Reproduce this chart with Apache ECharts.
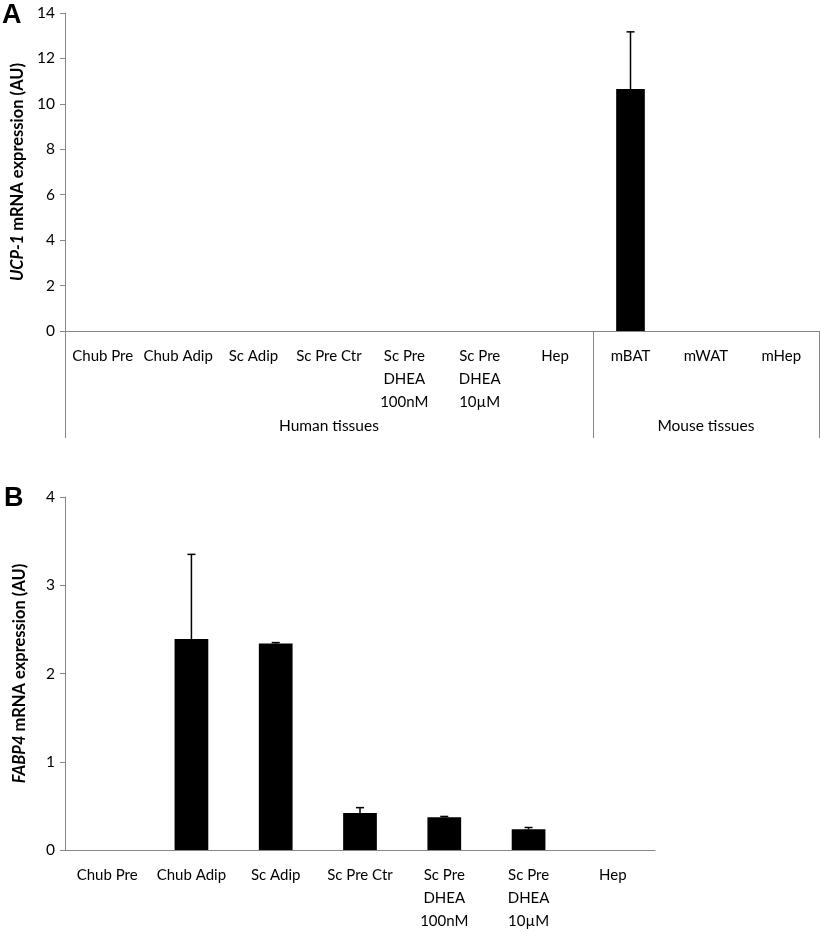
<!DOCTYPE html>
<html>
<head>
<meta charset="utf-8">
<script src="https://cdn.jsdelivr.net/npm/echarts@6/dist/echarts.min.js"></script>
<style>html,body{margin:0;padding:0;background:#fff}#main{width:820px;height:933px}</style>
</head>
<body>
<div id="main"></div>
<script>
// panel A: UCP-1
var ucpCategories = ['Chub Pre', 'Chub Adip', 'Sc Adip', 'Sc Pre Ctr', 'Sc Pre\nDHEA\n100nM', 'Sc Pre\nDHEA\n10µM', 'Hep', 'mBAT', 'mWAT', 'mHep'];
var ucpValues = [0, 0, 0, 0, 0, 0, 0, 10.65, 0, 0];
var ucpErrors = [0, 0, 0, 0, 0, 0, 0, 2.52, 0, 0];
var ucpGroups = ['Human tissues', 'Mouse tissues'];
var ucpGroupSizes = [7, 3];
var ucpTicks = [0, 2, 4, 6, 8, 10, 12, 14];

// panel B: FABP4
var fabpCategories = ['Chub Pre', 'Chub Adip', 'Sc Adip', 'Sc Pre Ctr', 'Sc Pre\nDHEA\n100nM', 'Sc Pre\nDHEA\n10µM', 'Hep'];
var fabpValues = [0, 2.39, 2.34, 0.42, 0.37, 0.235, 0];
var fabpErrors = [0, 0.96, 0.01, 0.06, 0.01, 0.02, 0];
var fabpTicks = [0, 1, 2, 3, 4];

var font = 'Lato';
var axisGrey = '#868686';

// group boundaries and centres for the second level of the A axis
var bounds = [0], centres = [];
ucpGroupSizes.forEach(function (n) {
    var start = bounds[bounds.length - 1];
    centres.push(start + n / 2);
    bounds.push(start + n);
});

function errorBars(values, errors, idx) {
    return {
        type: 'custom',
        xAxisIndex: idx === 0 ? 0 : 2,
        yAxisIndex: idx,
        z: 5,
        data: values.map(function (v, i) { return [i, v, v + errors[i], errors[i]]; }),
        renderItem: function (params, api) {
            if (!(api.value(3) > 0)) return;
            var lo = api.coord([api.value(0), api.value(1)]);
            var hi = api.coord([api.value(0), api.value(2)]);
            var st = { stroke: '#000', lineWidth: 1.5 };
            return {
                type: 'group',
                children: [
                    { type: 'line', shape: { x1: lo[0], y1: lo[1], x2: hi[0], y2: hi[1] }, style: st },
                    { type: 'line', shape: { x1: hi[0] - 4, y1: hi[1], x2: hi[0] + 4, y2: hi[1] }, style: st }
                ]
            };
        }
    };
}

function yAxisOf(grid, ticks, nameItalic) {
    return {
        type: 'value',
        gridIndex: grid,
        min: ticks[0],
        max: ticks[ticks.length - 1],
        interval: ticks[1] - ticks[0],
        axisLine: { show: true, lineStyle: { color: axisGrey, width: 1 } },
        axisTick: { show: true, length: 5, lineStyle: { color: axisGrey } },
        splitLine: { show: false },
        axisLabel: { color: '#000', fontSize: 15.5, fontFamily: font, margin: 10 },
        name: '{i|' + nameItalic + '} mRNA expression (AU)',
        nameLocation: 'middle',
        nameRotate: 90,
        nameGap: 37,
        nameTextStyle: {
            color: '#000', fontSize: 16.5, fontWeight: 'bold', fontFamily: font,
            rich: { i: { fontStyle: 'italic', fontWeight: 'bold', fontSize: 16.5, fontFamily: font, color: '#000' } }
        }
    };
}

function catAxis(grid, cats) {
    return {
        type: 'category',
        gridIndex: grid,
        position: 'bottom',
        data: cats,
        axisLine: { show: true, lineStyle: { color: axisGrey, width: 1 } },
        axisTick: { show: false },
        axisLabel: { interval: 0, color: '#000', fontSize: 15, fontFamily: font, margin: 14, lineHeight: 23 }
    };
}

var myChart = echarts.init(document.getElementById('main'));

var option = {
    backgroundColor: '#fff',
    animation: false,
    title: [
        { text: 'A', left: 2, top: 2, padding: 0, textStyle: { fontSize: 27, fontWeight: 'bold', fontFamily: 'Liberation Sans', color: '#000' } },
        { text: 'B', left: 4, top: 485, padding: 0, textStyle: { fontSize: 27, fontWeight: 'bold', fontFamily: 'Liberation Sans', color: '#000' } }
    ],
    grid: [
        { left: 65, top: 13, right: 1, height: 318 },
        { left: 65, top: 497, width: 590, height: 363 }
    ],
    xAxis: [
        catAxis(0, ucpCategories),
        {
            type: 'value',
            gridIndex: 0,
            position: 'bottom',
            min: 0,
            max: bounds[bounds.length - 1],
            axisLine: { show: false },
            splitLine: { show: false },
            axisTick: { show: true, customValues: bounds, length: 107, lineStyle: { color: axisGrey, width: 1 } },
            axisLabel: {
                customValues: centres,
                margin: 87,
                color: '#000', fontSize: 15.5, fontFamily: font,
                formatter: function (v) {
                    var k = centres.indexOf(v);
                    return k >= 0 ? ucpGroups[k] : '';
                }
            }
        },
        catAxis(1, fabpCategories)
    ],
    yAxis: [
        yAxisOf(0, ucpTicks, 'UCP-1'),
        yAxisOf(1, fabpTicks, 'FABP4')
    ],
    series: [
        { type: 'bar', xAxisIndex: 0, yAxisIndex: 0, data: ucpValues, barWidth: '38%', itemStyle: { color: '#000' } },
        errorBars(ucpValues, ucpErrors, 0),
        { type: 'bar', xAxisIndex: 2, yAxisIndex: 1, data: fabpValues, barWidth: '40%', itemStyle: { color: '#000' } },
        errorBars(fabpValues, fabpErrors, 1)
    ]
};

myChart.setOption(option);
</script>
</body>
</html>
